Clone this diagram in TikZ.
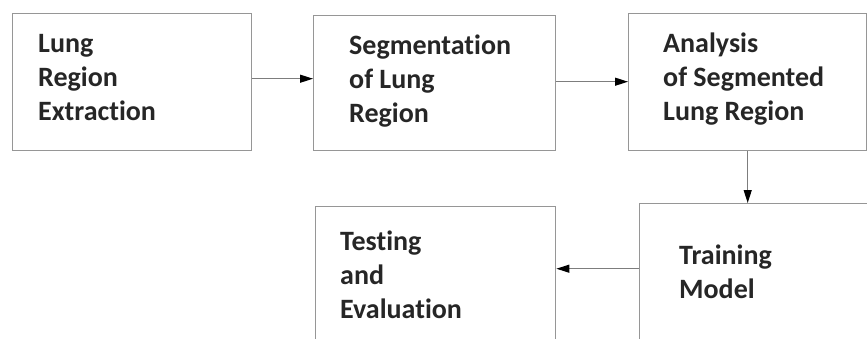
\documentclass[tikz,border=0pt]{standalone}
\usepackage{fontspec}
\setmainfont{Carlito}[Ligatures=NoCommon]
\usetikzlibrary{arrows.meta}
\definecolor{boxgray}{RGB}{150,150,150}
\definecolor{linegray}{RGB}{125,125,125}
\begin{document}
\begin{tikzpicture}[x=1pt,y=-1pt,
  box/.style={draw=boxgray, line width=1.4pt, rectangle, inner sep=0pt, anchor=north west},
  lbl/.style={anchor=base west, align=left, inner sep=0pt, font=\fontsize{28}{34}\selectfont\bfseries, text=black!85},
  arr/.style={draw=linegray, line width=1.2pt, -{Triangle[length=13pt,width=8pt,color=black]}}]
\path[use as bounding box] (0,0) rectangle (867,338);
\clip (0,0) rectangle (867,338);
\fill[white] (0,0) rectangle (867,338);
% boxes
\node[box, minimum width=239pt, minimum height=137pt] (b1) at (12,13) {};
\node[box, minimum width=242pt, minimum height=135pt] (b2) at (313,15) {};
\node[box, minimum width=238pt, minimum height=137pt] (b3) at (628,13) {};
\node[box, minimum width=240pt, minimum height=200pt] (b4) at (315,206) {};
\node[box, minimum width=260pt, minimum height=200pt] (b5) at (639,203) {};
% labels (anchor = baseline of last line)
\node[lbl] (t1) at (38,120) {Lung\\Region\\Extraction};
\node[lbl] (t2) at (349,122) {Segmentation\\of Lung\\Region};
\node[lbl] (t3) at (663,120) {Analysis\\of Segmented\\Lung Region};
\node[lbl] (t4) at (340,318) {Testing\\and\\Evaluation};
\node[lbl] (t5) at (679,298) {Training\\Model};
% connectors
\draw[arr] ([yshift=3.5pt]b1.east) coordinate (a1) -- (a1 -| b2.west);
\draw[arr] ([yshift=1.5pt]b2.east) coordinate (a2) -- (a2 -| b3.west);
\draw[arr] (b3.south) -- (b3.south |- b5.north);
\draw[arr] ([yshift=35pt]b5.west) coordinate (a4) -- (a4 -| b4.east);
\end{tikzpicture}
\end{document}
